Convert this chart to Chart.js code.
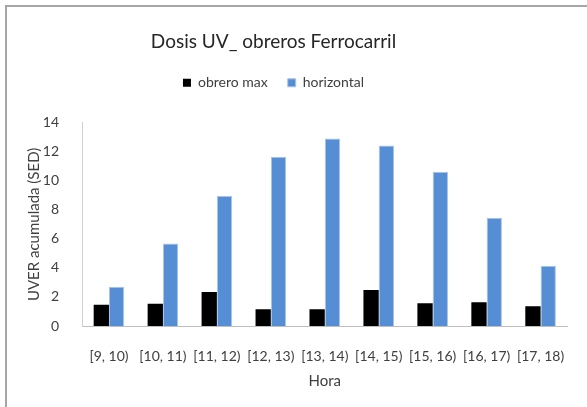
<!DOCTYPE html>
<html>
<head>
<meta charset="utf-8">
<script src="https://cdn.jsdelivr.net/npm/chart.js@4/dist/chart.umd.min.js"></script>
<style>
  html, body { margin: 0; padding: 0; background: #fff; }
  #wrap { position: relative; width: 587px; height: 407px; }
  #frame { position: absolute; left: 5px; top: 5px; right: 0; bottom: 0;
           border-left: 2px solid #a6a6a6; border-top: 2px solid #a6a6a6; pointer-events: none; }
</style>
</head>
<body>
<div id="wrap">
  <canvas id="uvChart" width="587" height="407"></canvas>
  <div id="frame"></div>
</div>
<script>
// Data
const horas = ["[9, 10)", "[10, 11)", "[11, 12)", "[12, 13)", "[13, 14)", "[14, 15)", "[15, 16)", "[16, 17)", "[17, 18)"];
const obreroMax = [1.47, 1.54, 2.34, 1.15, 1.15, 2.48, 1.56, 1.63, 1.36];
const horizontal = [2.71, 5.69, 8.95, 11.66, 12.92, 12.44, 10.63, 7.46, 4.15];
const yTicks = [0, 2, 4, 6, 8, 10, 12, 14];

const font = "Lato, 'Open Sans', sans-serif";
const textColor = "#404040";

const ctx = document.getElementById("uvChart").getContext("2d");
new Chart(ctx, {
  type: "bar",
  data: {
    labels: horas,
    datasets: [
      {
        label: "obrero max",
        data: obreroMax,
        backgroundColor: "#000000",
        borderWidth: 0
      },
      {
        label: "horizontal",
        data: horizontal,
        backgroundColor: "#558ed5",
        borderColor: "#a9c4ea",
        borderWidth: 1
      }
    ]
  },
  options: {
    responsive: false,
    animation: false,
    // left is negative so title/legend centre sits left of the canvas centre, like the original
    layout: { padding: { left: -26, right: 14, top: 0, bottom: 0 } },
    datasets: { bar: { categoryPercentage: 0.567, barPercentage: 1.0 } },
    plugins: {
      title: {
        display: true,
        text: "Dosis UV_ obreros Ferrocarril",
        color: "#262626",
        font: { family: font, size: 19, weight: "normal" },
        padding: { top: 30, bottom: 3 }
      },
      legend: {
        position: "top",
        weight: 1700,
        labels: {
          color: textColor,
          font: { family: font, size: 14 },
          boxWidth: 8,
          boxHeight: 8,
          padding: 20
        }
      },
      // empty spacer between legend and plot
      subtitle: {
        display: true,
        text: "",
        font: { size: 10, lineHeight: 2.3 },
        padding: 0
      },
      tooltip: { enabled: false }
    },
    scales: {
      x: {
        grid: { display: false, drawTicks: false },
        border: { color: "#bfbfbf", width: 1 },
        ticks: { color: textColor, font: { family: font, size: 14 }, padding: 22, maxRotation: 0, autoSkip: false },
        title: { display: true, text: "Hora", color: textColor, font: { family: font, size: 15 }, padding: { top: 4, bottom: 17 } },
        afterFit: (scale) => { scale.height = 81; }
      },
      y: {
        min: 0,
        max: 14,
        grid: { display: false, drawTicks: false },
        border: { color: "#d0d0d0", width: 1 },
        ticks: {
          color: textColor,
          font: { family: font, size: 14 },
          padding: 23,
          stepSize: 2
        },
        afterBuildTicks: (scale) => { scale.ticks = yTicks.map(v => ({ value: v })); },
        title: { display: true, text: "UVER acumulada (SED)", color: textColor, font: { family: font, size: 15 }, padding: { top: 51, bottom: 0 } },
        afterFit: (scale) => { scale.width = 108; }
      }
    }
  }
});
</script>
</body>
</html>
